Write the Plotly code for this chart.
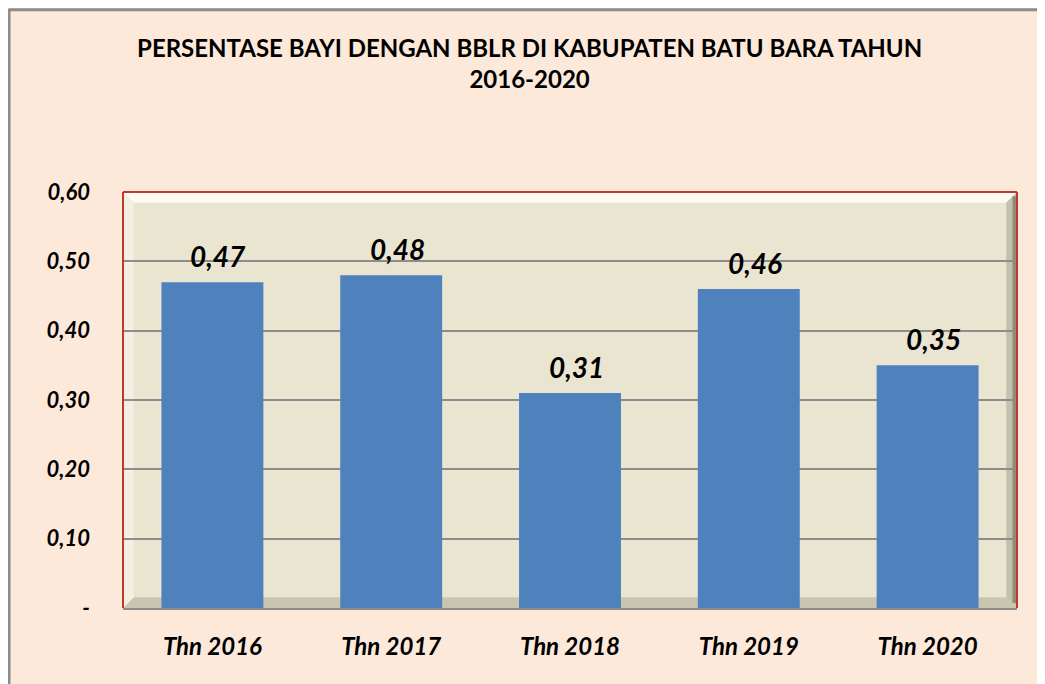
import plotly.graph_objects as go

years = ["Thn 2016", "Thn 2017", "Thn 2018", "Thn 2019", "Thn 2020"]
bblr_pct = [0.47, 0.48, 0.31, 0.46, 0.35]
bblr_labels = ["0,47", "0,48", "0,31", "0,46", "0,35"]

y_ticks = [0, 0.1, 0.2, 0.3, 0.4, 0.5, 0.6]
y_tick_text = ["-", "0,10", "0,20", "0,30", "0,40", "0,50", "0,60"]

FONT = "Lato, 'Open Sans', sans-serif"
PEACH = "#FDE9DA"

fig = go.Figure()

fig.add_trace(
    go.Bar(
        x=years,
        y=bblr_pct,
        marker=dict(color="#4F81BD", line=dict(width=0)),
        width=0.57,
        showlegend=False,
    )
)

# value labels, sitting a little above each bar like the Excel original
for yr, val, lab in zip(years, bblr_pct, bblr_labels):
    fig.add_annotation(
        x=yr, y=val, text=lab, showarrow=False,
        yanchor="bottom", yshift=7, xshift=6,
        font=dict(family=FONT, size=28, color="black", style="italic", weight="bold"),
    )

# outer frame (top/left grey edge) and the plot-area bevel
shapes = [
    dict(type="line", xref="paper", yref="paper", x0=-0.128, x1=1.04, y0=1.438, y1=1.438,
         line=dict(color="#8C8C8C", width=3)),
    dict(type="line", xref="paper", yref="paper", x0=-0.1275, x1=-0.1275, y0=-0.2, y1=1.44,
         line=dict(color="#8C8C8C", width=3)),
    dict(type="path", xref="paper", yref="paper", layer="below",
         path="M 0 1 L 1 1 L 0.988 0.974 L 0.012 0.974 Z",
         fillcolor="#FCFBF3", line=dict(width=0)),
    dict(type="path", xref="paper", yref="paper", layer="below",
         path="M 1 1 L 1 0 L 0.988 0.026 L 0.988 0.974 Z",
         fillcolor="#C3C0AC", line=dict(width=0)),
    dict(type="rect", xref="paper", yref="paper", layer="below",
         x0=0.995, x1=1, y0=0.012, y1=0.99,
         fillcolor="#8F8C7C", line=dict(width=0)),
    dict(type="path", xref="paper", yref="paper", layer="below",
         path="M 0 0 L 1 0 L 0.988 0.026 L 0.012 0.026 Z",
         fillcolor="#C9C5B0", line=dict(width=0)),
    dict(type="path", xref="paper", yref="paper", layer="below",
         path="M 0 0 L 0 1 L 0.012 0.974 L 0.012 0.026 Z",
         fillcolor="#F3F0E1", line=dict(width=0)),
    dict(type="line", xref="paper", yref="paper", x0=0, x1=0, y0=0, y1=1,
         line=dict(color="#C0392B", width=2)),
    dict(type="line", xref="paper", yref="paper", x0=0, x1=1, y0=1, y1=1,
         line=dict(color="#C0392B", width=2)),
    dict(type="line", xref="paper", yref="paper", x0=1, x1=1, y0=0, y1=1,
         line=dict(color="#C0392B", width=2)),
]

fig.update_layout(
    width=1037,
    height=676,
    margin=dict(l=115, r=28, t=184, b=76),
    paper_bgcolor=PEACH,
    plot_bgcolor="#EAE5D1",
    shapes=shapes,
    title=dict(
        text="PERSENTASE BAYI DENGAN BBLR DI KABUPATEN BATU BARA TAHUN<br>2016-2020",
        x=0.503, xanchor="center", xref="container",
        y=0.928, yanchor="top", yref="container",
        font=dict(family=FONT, size=24, color="black", weight="bold"),
    ),
    bargap=0.43,
)

fig.update_yaxes(
    range=[0, 0.6],
    tickvals=y_ticks,
    ticktext=y_tick_text,
    showgrid=True,
    gridcolor="#8C8C8C",
    gridwidth=2,
    zeroline=False,
    showline=False,
    ticks="",
    ticklabelstandoff=32,
    tickfont=dict(family=FONT, size=22, color="black", style="italic", weight="bold"),
)
fig.update_xaxes(
    showline=True,
    linecolor="#8C8C8C",
    linewidth=2,
    ticks="",
    ticklabelstandoff=16,
    tickfont=dict(family=FONT, size=24, color="black", style="italic", weight="bold"),
)

fig.write_html("out.html")
